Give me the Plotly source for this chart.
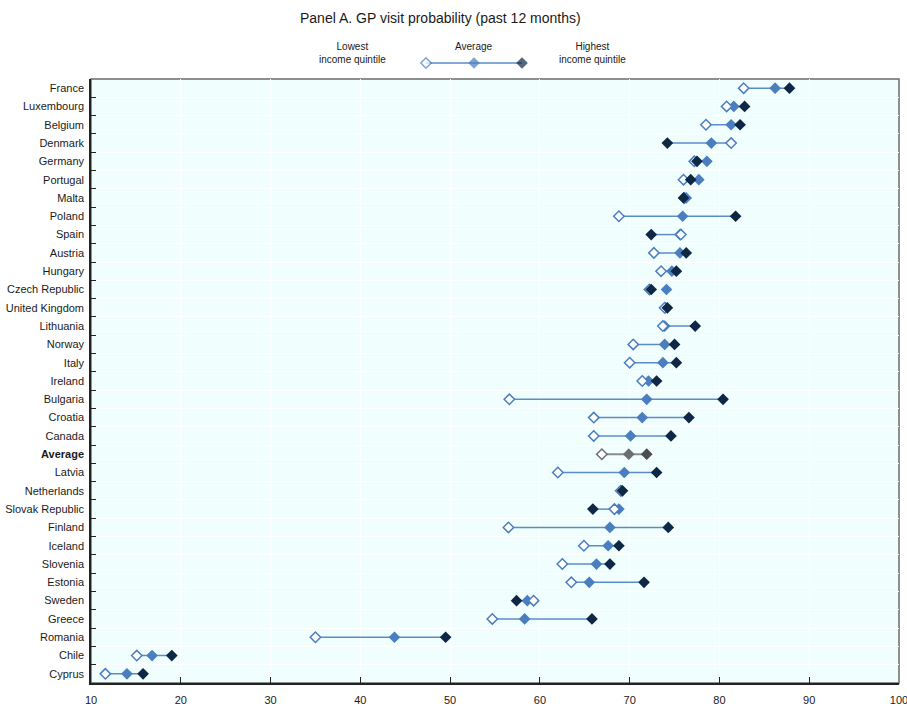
import plotly.graph_objects as go

countries = ["France", "Luxembourg", "Belgium", "Denmark", "Germany", "Portugal", "Malta",
             "Poland", "Spain", "Austria", "Hungary", "Czech Republic", "United Kingdom",
             "Lithuania", "Norway", "Italy", "Ireland", "Bulgaria", "Croatia", "Canada",
             "Average", "Latvia", "Netherlands", "Slovak Republic", "Finland", "Iceland",
             "Slovenia", "Estonia", "Sweden", "Greece", "Romania", "Chile", "Cyprus"]
lowest = [82.7, 80.8, 78.5, 81.3, 77.2, 76.0, 76.1,
          68.8, 75.7, 72.7, 73.5, 72.2, 73.9,
          73.7, 70.4, 70.0, 71.4, 56.6, 66.0, 66.0,
          66.9, 62.0, 69.0, 68.3, 56.5, 64.9,
          62.5, 63.5, 59.3, 54.7, 35.0, 15.1, 11.6]
average = [86.2, 81.6, 81.3, 79.1, 78.6, 77.7, 76.3,
           75.9, 75.6, 75.6, 74.7, 74.1, 74.0,
           73.9, 73.9, 73.7, 72.1, 71.9, 71.4, 70.1,
           69.9, 69.4, 69.1, 68.8, 67.8, 67.6,
           66.3, 65.5, 58.6, 58.3, 43.8, 16.8, 14.0]
highest = [87.8, 82.8, 82.3, 74.2, 77.5, 76.8, 76.0,
           81.8, 72.4, 76.3, 75.2, 72.4, 74.2,
           77.3, 75.0, 75.2, 73.0, 80.4, 76.6, 74.6,
           71.9, 73.0, 69.2, 65.9, 74.3, 68.8,
           67.8, 71.6, 57.4, 65.8, 49.5, 19.0, 15.8]
x_ticks = [10, 20, 30, 40, 50, 60, 70, 80, 90, 100]
legend_keys = ["Lowest", "Average", "Highest"]

title = "Panel A. GP visit probability (past 12 months)"

FONT = "Liberation Sans, Arial, sans-serif"
C_LINE = "#5B8BC9"
C_AVG = "#4A7EBF"
C_HIGH = "#0E2745"
G_LINE = "#8C8C8C"
G_AVG = "#6E6E6E"
G_HIGH = "#4D4D4D"
BG = "#F1FEFE"

is_avg = [c == "Average" for c in countries]

fig = go.Figure()

# connector lines
lx, ly, gx, gy = [], [], [], []
for c, lo, hi, a in zip(countries, lowest, highest, is_avg):
    if a:
        gx += [lo, hi, None]; gy += [c, c, None]
    else:
        lx += [lo, hi, None]; ly += [c, c, None]
fig.add_trace(go.Scatter(x=lx, y=ly, mode="lines", line=dict(color=C_LINE, width=1.5),
                         hoverinfo="skip", showlegend=False))
fig.add_trace(go.Scatter(x=gx, y=gy, mode="lines", line=dict(color=G_LINE, width=2),
                         hoverinfo="skip", showlegend=False))

MS = 9
fig.add_trace(go.Scatter(
    x=average, y=countries, mode="markers", showlegend=False,
    marker=dict(symbol="diamond", size=MS,
                color=[G_AVG if a else C_AVG for a in is_avg],
                line=dict(width=0))))
fig.add_trace(go.Scatter(
    x=lowest, y=countries, mode="markers", showlegend=False,
    marker=dict(symbol="diamond", size=MS - 1, color="white",
                line=dict(width=1.5, color=[G_AVG if a else C_AVG for a in is_avg]))))
fig.add_trace(go.Scatter(
    x=highest, y=countries, mode="markers", showlegend=False,
    marker=dict(symbol="diamond", size=MS,
                color=[G_HIGH if a else C_HIGH for a in is_avg],
                line=dict(width=0))))

# legend key (custom)
fig.add_trace(go.Scatter(x=legend_keys, y=[0, 0, 0], xaxis="x2", yaxis="y2",
                         mode="lines", line=dict(color=C_LINE, width=1.5),
                         hoverinfo="skip", showlegend=False))
fig.add_trace(go.Scatter(x=legend_keys, y=[0, 0, 0], xaxis="x2", yaxis="y2",
                         mode="markers", hoverinfo="skip", showlegend=False,
                         marker=dict(symbol="diamond", size=[MS - 1, MS, MS],
                                     color=["white", C_AVG, C_HIGH],
                                     line=dict(width=[1.5, 0, 0], color=C_AVG))))

ticktext = ["<b>Average</b>" if a else c for c, a in zip(countries, is_avg)]

H_TOT = 706 - 30 - 23
def py(px):
    return (683 - px) / H_TOT
def pxx(px):
    return (px - 91) / 808

fig.update_layout(
    width=907, height=706,
    margin=dict(l=91, r=8, t=30, b=23),
    paper_bgcolor="white",
    plot_bgcolor="white",
    font=dict(family=FONT, size=11, color="#1a1a1a"),
    xaxis=dict(range=[10, 100], tickvals=x_ticks, ticks="inside", ticklen=6,
               tickcolor="#222", showline=True, linecolor="#222", linewidth=1.5,
               showgrid=True, gridcolor="white", gridwidth=1, zeroline=False,
               tickfont=dict(size=11, family=FONT), ticklabeloverflow="allow",
               ticklabelstandoff=6, automargin=False),
    yaxis=dict(domain=[0, py(79)], type="category", categoryorder="array",
               categoryarray=countries, tickvals=countries, ticktext=ticktext,
               range=[len(countries) - 0.5, -0.5], tickson="boundaries", ticks="inside",
               ticklen=5, tickcolor="#222", showline=True, linecolor="#222",
               linewidth=1.5, showgrid=True, gridcolor="white", gridwidth=1,
               tickfont=dict(size=11, family=FONT), ticklabelstandoff=3,
               automargin=False),
    xaxis2=dict(domain=[pxx(402), pxx(546)], anchor="y2", type="category",
                categoryorder="array", categoryarray=legend_keys, range=[-0.5, 2.5],
                visible=False),
    yaxis2=dict(domain=[py(73), py(53)], anchor="x2", range=[-1, 1], visible=False),
    shapes=[dict(type="rect", xref="x domain", yref="y domain", x0=0, x1=1, y0=0, y1=1,
                 line=dict(color="#6b6b6b", width=1.5), fillcolor=BG,
                 layer="below")],
    annotations=[
        dict(text=title, xref="paper", yref="paper", x=pxx(440), y=py(18),
             showarrow=False, font=dict(size=14, family=FONT, color="#1a1a1a"),
             xanchor="center", yanchor="middle"),
        dict(text="Lowest<br>income quintile", xref="paper", yref="paper",
             x=pxx(352), y=py(53), showarrow=False, font=dict(size=10, family=FONT),
             xanchor="center", yanchor="middle", align="center"),
        dict(text="Average", xref="paper", yref="paper",
             x=pxx(474), y=py(46), showarrow=False, font=dict(size=10, family=FONT),
             xanchor="center", yanchor="middle"),
        dict(text="Highest<br>income quintile", xref="paper", yref="paper",
             x=pxx(592), y=py(53), showarrow=False, font=dict(size=10, family=FONT),
             xanchor="center", yanchor="middle", align="center"),
    ],
)

fig.write_html("out.html")
